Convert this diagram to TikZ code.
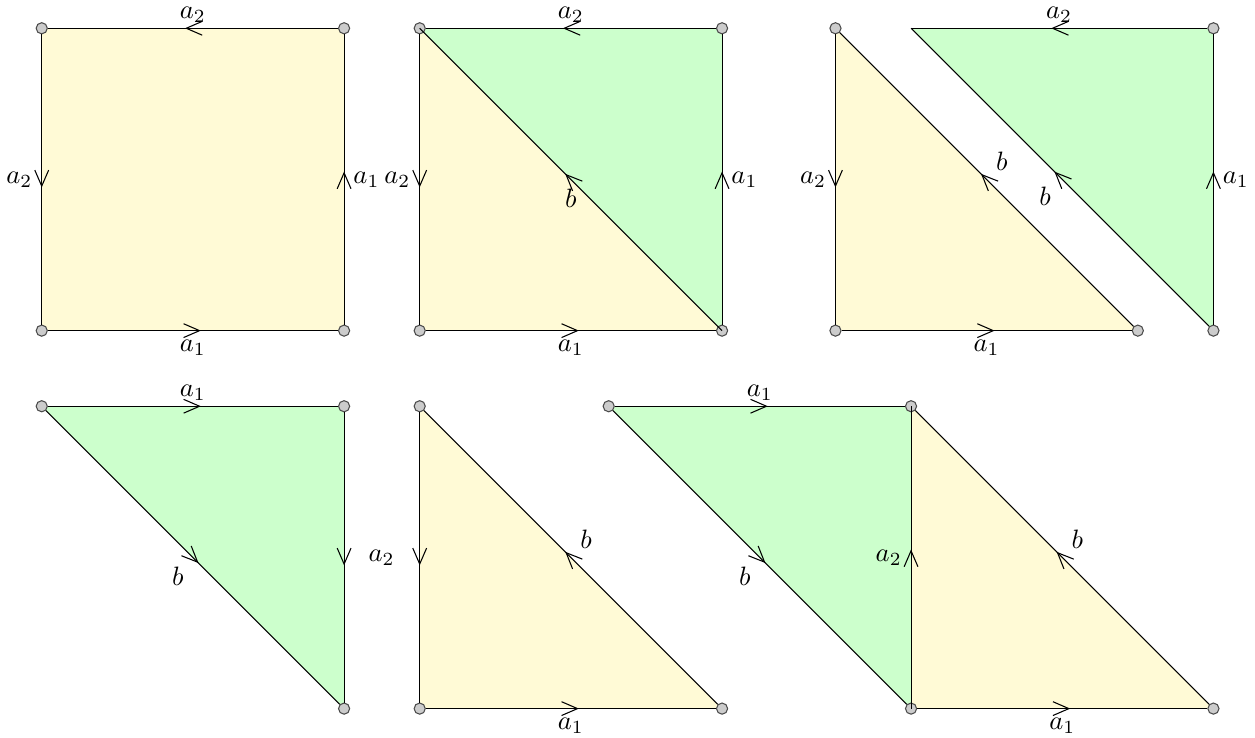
\documentclass[tikz,border=0pt]{standalone}
\usetikzlibrary{arrows.meta,decorations.markings,backgrounds}
\definecolor{paleyellow}{RGB}{255,250,214}
\definecolor{palegreen}{RGB}{204,255,204}
\tikzset{
  vert/.style={circle,draw=black!70,fill=black!20,inner sep=0pt,minimum size=4.2pt},
  mid/.style={postaction={decorate},decoration={markings,
      mark=at position 0.5 with {\arrow[xshift=3pt]{Straight Barb[length=6pt,width=5.2pt]}}}},
  top/.style={above,yshift=-1.5pt},
}
\begin{document}
\begin{tikzpicture}
    \useasboundingbox (-0.552,-5.388) rectangle (16.05,4.374);
    % square
    \node[vert] (A1) at (0,0) {};
    \node[vert] (A2) at (4,0) {};
    \node[vert] (A3) at (4,4) {};
    \node[vert] (A4) at (0,4) {};
    \begin{scope}[on background layer]
        \fill[paleyellow] (A1.center) -- (A2.center) -- (A3.center) -- (A4.center) -- cycle;
    \end{scope}
    \draw[mid] (A1) to node[below] (la1) {$a_1$} (A2);
    \draw[mid] (A2) to node[right] (la2) {$a_1$} (A3);
    \draw[mid] (A3) to node[top] (la3) {$a_2$} (A4);
    \draw[mid] (A4) to node[left] (la4) {$a_2$} (A1);

    % cut along the diagonal
    \node[vert] (B1) at (5,0) {};
    \node[vert] (B2) at (9,0) {};
    \node[vert] (B3) at (9,4) {};
    \node[vert] (B4) at (5,4) {};
    \begin{scope}[on background layer]
        \fill[paleyellow] (B1.center) -- (B2.center) -- (B4.center) -- cycle;
        \fill[palegreen] (B2.center) -- (B3.center) -- (B4.center) -- cycle;
    \end{scope}
    \draw[mid] (B1) to node[below] (lb1) {$a_1$} (B2);
    \draw[mid] (B2) to node[right] (lb2) {$a_1$} (B3);
    \draw[mid] (B3) to node[top] (lb3) {$a_2$} (B4);
    \draw[mid] (B4) to node[left] (lb4) {$a_2$} (B1);
    \draw[mid] (B2.center) to node[below] (lb5) {$b$} (B4.center);

    % two pieces
    \node[vert] (C1) at (10.5,4) {};
    \node[vert] (C2) at (10.5,0) {};
    \node[vert] (C3) at (14.5,0) {};
    \coordinate (C4) at (11.5,4);
    \node[vert] (C5) at (15.5,4) {};
    \node[vert] (C6) at (15.5,0) {};
    \begin{scope}[on background layer]
        \fill[paleyellow] (C1.center) -- (C2.center) -- (C3.center) -- cycle;
        \fill[palegreen] (C4) -- (C5.center) -- (C6.center) -- cycle;
    \end{scope}
    \draw[mid] (C1) to node[left] (lc1) {$a_2$} (C2);
    \draw[mid] (C2) to node[below] (lc2) {$a_1$} (C3);
    \draw[mid] (C3) to node[above right] (lc3) {$b$} (C1);
    \draw[mid] (C5) to node[top] (lc4) {$a_2$} (C4);
    \draw[mid] (C6) to node[below left] (lc5) {$b$} (C4);
    \draw[mid] (C6) to node[right] (lc6) {$a_1$} (C5);

    % green piece
    \node[vert] (D1) at (0,-1) {};
    \node[vert] (D2) at (4,-1) {};
    \node[vert] (D3) at (4,-5) {};
    \begin{scope}[on background layer]
        \fill[palegreen] (D1.center) -- (D2.center) -- (D3.center) -- cycle;
    \end{scope}
    \draw[mid] (D1) to node[top] (ld1) {$a_1$} (D2);
    \draw[mid] (D2) to node[right=0.2cm] (ld2) {$a_2$} (D3);
    \draw[mid] (D1) to node[below left] (ld3) {$b$} (D3);

    % yellow piece
    \node[vert] (E1) at (5,-1) {};
    \node[vert] (E2) at (5,-5) {};
    \node[vert] (E3) at (9,-5) {};
    \begin{scope}[on background layer]
        \fill[paleyellow] (E1.center) -- (E2.center) -- (E3.center) -- cycle;
    \end{scope}
    \draw[mid] (E1) to (E2);
    \draw[mid] (E2) to node[below] (le1) {$a_1$} (E3);
    \draw[mid] (E3) to node[above right] (le2) {$b$} (E1);

    % glued along a_2
    \node[vert] (F1) at (7.5,-1) {};
    \node[vert] (F2) at (11.5,-1) {};
    \node[vert] (F3) at (11.5,-5) {};
    \node[vert] (F4) at (15.5,-5) {};
    \begin{scope}[on background layer]
        \fill[palegreen] (F1.center) -- (F2.center) -- (F3.center) -- cycle;
        \fill[paleyellow] (F2.center) -- (F3.center) -- (F4.center) -- cycle;
    \end{scope}
    \draw[mid] (F1) to node[top] (lf1) {$a_1$} (F2);
    \draw[mid] (F1) to node[below left] (lf2) {$b$} (F3);
    \draw[mid] (F3.center) to node[left] (lf3) {$a_2$} (F2.center);
    \draw[mid] (F3) to node[below] (lf4) {$a_1$} (F4);
    \draw[mid] (F4) to node[above right] (lf5) {$b$} (F2);
\end{tikzpicture}
\end{document}
